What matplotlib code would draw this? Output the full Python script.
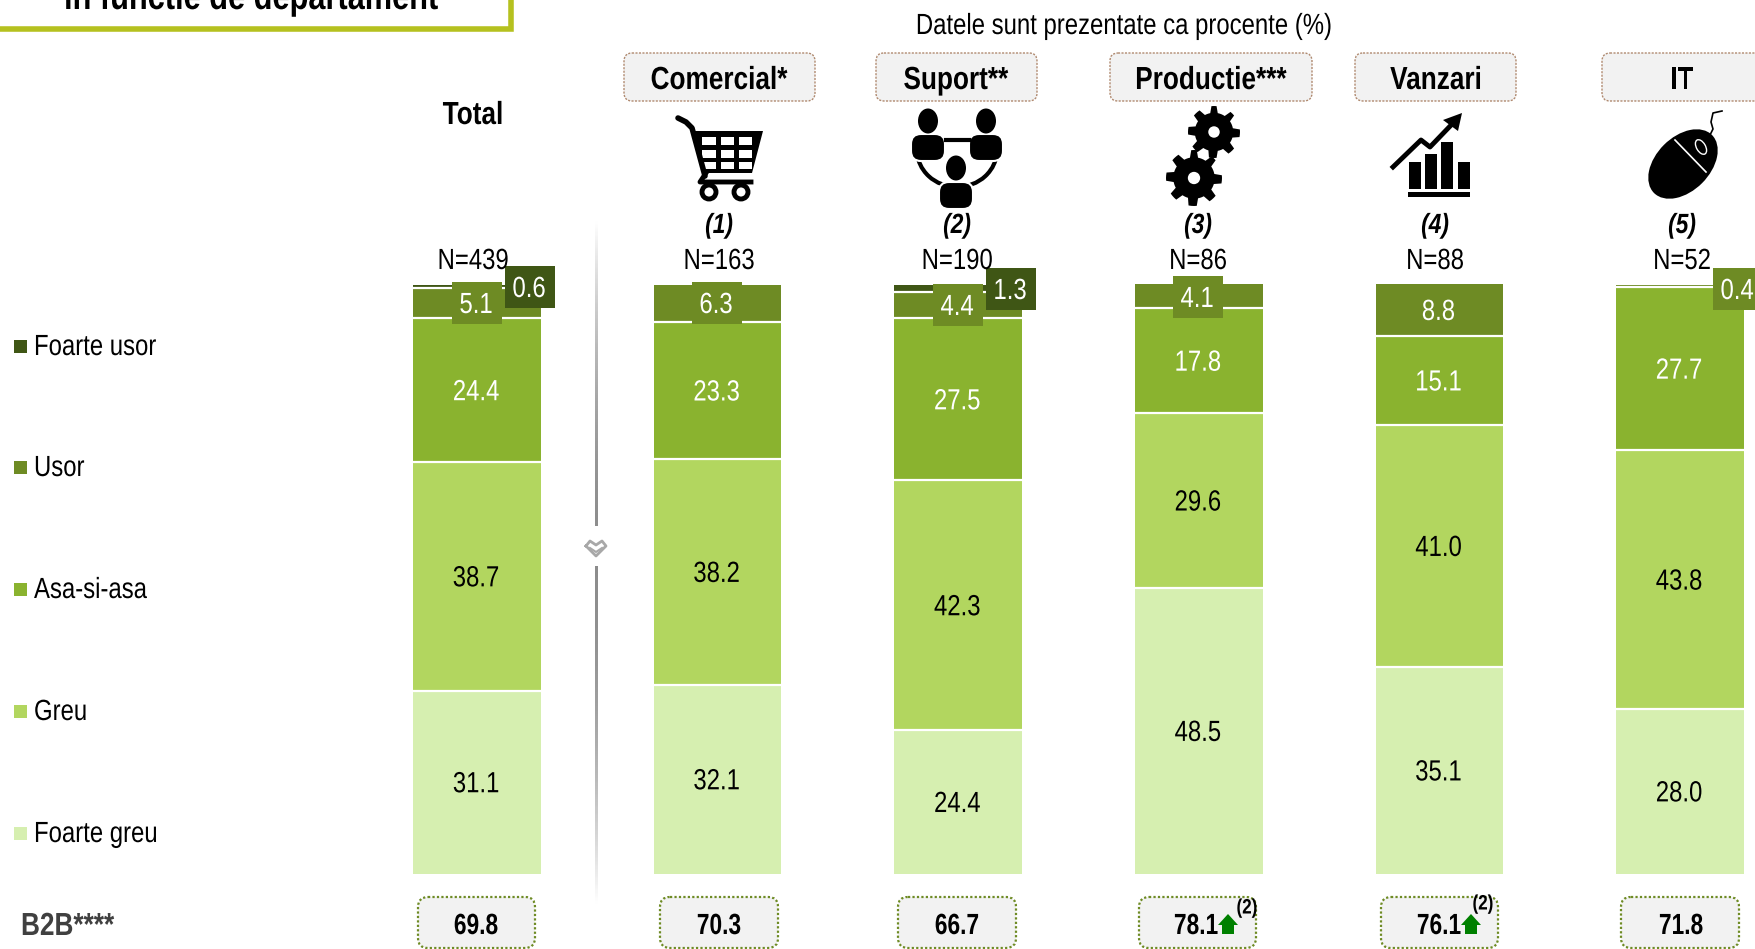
import matplotlib
matplotlib.use("Agg")
import matplotlib.pyplot as plt
from matplotlib.patches import Rectangle, FancyBboxPatch, Polygon, Circle, Ellipse, Arc
from matplotlib.patheffects import AbstractPathEffect
from matplotlib.transforms import Affine2D
import numpy as np

plt.rcParams['font.family'] = ['Liberation Sans', 'DejaVu Sans']

# data
departments = ["Total", "Comercial*", "Suport**", "Productie***", "Vanzari", "IT"]
sample_n = ["N=439", "N=163", "N=190", "N=86", "N=88", "N=52"]
col_numbers = ["(1)", "(2)", "(3)", "(4)", "(5)"]
levels = ["Foarte greu", "Greu", "Asa-si-asa", "Usor", "Foarte usor"]
foarte_greu = [31.1, 32.1, 24.4, 48.5, 35.1, 28.0]
greu = [38.7, 38.2, 42.3, 29.6, 41.0, 43.8]
asa_si_asa = [24.4, 23.3, 27.5, 17.8, 15.1, 27.7]
usor = [5.1, 6.3, 4.4, 4.1, 8.8, 0.4]
foarte_usor = [0.6, 0.0, 1.3, 0.0, 0.0, 0.0]
b2b = [69.8, 70.3, 66.7, 78.1, 76.1, 71.8]

series = [foarte_greu, greu, asa_si_asa, usor, foarte_usor]
colors = ["#D6EFB0", "#B2D65F", "#8AB32F", "#6E8B24", "#3F5615"]
text_colors = ["black", "black", "white", "white", "white"]

W, H = 1755, 949
fig = plt.figure(figsize=(W / 100, H / 100), dpi=100, facecolor="white")


# no narrow font is installed, so squeeze the glyphs around the text anchor
class Narrow(AbstractPathEffect):
    def __init__(self, artist, sx):
        super().__init__()
        self.artist = artist
        self.sx = sx

    def draw_path(self, renderer, gc, tpath, affine, rgbFace=None):
        x0 = self.artist.get_transform().transform(self.artist.get_position())[0]
        squeeze = Affine2D().translate(-x0, 0).scale(self.sx, 1).translate(x0, 0)
        renderer.draw_path(gc, tpath, affine + squeeze, rgbFace)


def label(axis, x, y, s, sx=0.82, **kw):
    kw.setdefault("ha", "center")
    kw.setdefault("va", "center")
    t = axis.text(x, y, s, **kw)
    t.set_path_effects([Narrow(t, sx)])
    return t


# bars, y axis 0-100 sits between pixel rows 874 and 284
pitch = 240.6
left = 477 - pitch / 2
ax = fig.add_axes([left / W, (H - 874) / H, 6 * pitch / W, 590 / H])
ax.set_xlim(-0.5, 5.5)
ax.set_ylim(0, 100)
ax.axis("off")
x = np.arange(len(departments))
bar_w = 0.53
nudge = ax.transData + Affine2D().translate(-1, -2)
bottom = np.zeros(len(departments))
boxed = {(0, 3), (0, 4), (1, 3), (2, 3), (2, 4), (3, 3), (5, 3)}
for s, vals in enumerate(series):
    vals = np.array(vals)
    ax.bar(x, vals, bar_w, bottom=bottom, color=colors[s], linewidth=0)
    for i, v in enumerate(vals):
        if v > 0 and (i, s) not in boxed:
            label(ax, i, bottom[i] + v / 2, f"{v:.1f}", color=text_colors[s], fontsize=21,
                  transform=nudge)
    # thin white line under each segment, not at the very bottom
    if s > 0:
        ok = vals > 0
        ax.hlines(bottom[ok], x[ok] - bar_w / 2, x[ok] + bar_w / 2, color="white",
                  linewidth=1.6, zorder=3, clip_on=False)
    bottom += vals

# everything else in pixel coordinates
ov = fig.add_axes([0, 0, 1, 1], facecolor="none")
ov.set_xlim(0, W)
ov.set_ylim(H, 0)
ov.axis("off")

# small value tags that sit over thin segments: column, series, centre
tag_pos = [(0, 3, 477, 303), (0, 4, 530, 287), (1, 3, 717, 303), (2, 3, 958, 305),
           (2, 4, 1011, 289), (3, 3, 1198, 297), (5, 3, 1738, 289)]
for i, s, cx, cy in tag_pos:
    ov.add_patch(Rectangle((cx - 25, cy - 21), 50, 42, color=colors[s], lw=0, zorder=3))
    label(ov, cx - 1, cy + 2, f"{series[s][i]:.1f}", color="white", fontsize=21, zorder=4)

# title box, cut by the top edge
ov.add_patch(Rectangle((-10, -10), 521, 39, facecolor="white", edgecolor="#B5C11F", lw=4))
label(ov, 251, -1, "in functie de departament", fontsize=27, fontweight="bold")
label(ov, 1124, 26, "Datele sunt prezentate ca procente (%)", fontsize=21)

# header boxes
label(ov, 473, 116, departments[0], fontsize=23, fontweight="bold")
head_boxes = [(624, 815), (876, 1037), (1110, 1312), (1355, 1516), (1602, 1762)]
head_x = [719, 956, 1211, 1436, 1682]
for (a, b), cx, name in zip(head_boxes, head_x, departments[1:]):
    ov.add_patch(FancyBboxPatch((a + 6, 59), b - a - 12, 36, boxstyle="round,pad=6,rounding_size=8",
                                facecolor="#F2F2F2", edgecolor="#B08A70", lw=1, ls=(0, (1.5, 1))))
    label(ov, cx, 81, name, fontsize=23, fontweight="bold")

num_x = [719, 957, 1198, 1435, 1682]
for cx, t in zip(num_x, col_numbers):
    label(ov, cx, 226, t, fontsize=20, fontweight="bold", style="italic")
n_x = [473] + num_x
for cx, t in zip(n_x, sample_n):
    label(ov, cx, 261, t, fontsize=21)

# legend
leg_y = [346, 467, 589, 711, 833]
for y, s in zip(leg_y, [4, 3, 2, 1, 0]):
    ov.add_patch(Rectangle((14, y - 6.5), 13, 13, color=colors[s], lw=0))
    label(ov, 34, y + 1, levels[s], ha="left", fontsize=21)

# B2B row
label(ov, 21, 927, "B2B****", ha="left", fontsize=23, fontweight="bold", color="#404040")
b2b_boxes = [(418, 535), (660, 778), (898, 1016), (1139, 1256), (1381, 1498), (1621, 1739)]
b2b_x = [476, 719, 957, 1196, 1439, 1681]
for (a, b), cx, v in zip(b2b_boxes, b2b_x, b2b):
    ov.add_patch(FancyBboxPatch((a + 8, 905), b - a - 16, 35, boxstyle="round,pad=8,rounding_size=10",
                                facecolor="#F2F2F2", edgecolor="#6E8B24", lw=1.6, ls=(0, (1, 1))))
    label(ov, cx, 926, f"{v:.1f}", sx=0.78, fontsize=21, fontweight="bold")


def up_arrow(xc):
    pts = [(xc, 914), (xc + 10, 925), (xc + 6, 925), (xc + 6, 934), (xc - 6, 934), (xc - 6, 925), (xc - 10, 925)]
    ov.add_patch(Polygon(pts, color="#008000", lw=0))


up_arrow(1228)
up_arrow(1471)
label(ov, 1247, 908, "(2)", fontsize=15, fontweight="bold")
label(ov, 1483, 904, "(2)", fontsize=15, fontweight="bold")

# divider with fading ends
grad = np.abs(np.linspace(-1, 1, 256)) ** 2
img = (0.55 + 0.45 * grad)[:, None]
ov.imshow(img, extent=(595, 598, 905, 220), cmap="gray", vmin=0, vmax=1, aspect="auto", zorder=1)
ov.set_xlim(0, W)
ov.set_ylim(H, 0)
ov.add_patch(Rectangle((585, 526), 24, 40, color="white", lw=0, zorder=2))
ov.plot([586, 590, 596, 602, 606, 601, 596, 591, 586], [546, 541, 545, 541, 546, 551, 556, 551, 546],
        color="#a8a8a8", lw=2, zorder=3)
ov.plot([590, 596, 602], [548, 552, 548], color="#a8a8a8", lw=1.5, zorder=3)

# icons
# cart
ov.plot([678, 686, 692, 705], [118, 122, 128, 176], color="k", lw=4, solid_capstyle="round")
ov.add_patch(Polygon([(693, 131), (763, 131), (752, 173), (703, 173)], color="k", lw=0))
for cy, h in [(137, 8), (150, 8), (162, 7)]:
    for cx, w in [(702, 14), (721, 13), (739, 13)]:
        ov.add_patch(Rectangle((cx, cy), w, h, color="white", lw=0))
ov.plot([706, 700, 751], [173, 182, 182], color="k", lw=3.5)
for cx in (709, 741):
    ov.add_patch(Circle((cx, 192), 7, facecolor="white", edgecolor="k", lw=3.5))

# people
ov.add_patch(Arc((957, 150), 80, 74, theta1=0, theta2=180, color="k", lw=3))
ov.plot([946, 969], [140, 140], color="k", lw=3)
for hx, hy, by in [(928, 121, 134), (986, 121, 134), (956, 168, 182)]:
    ov.add_patch(Ellipse((hx, hy), 20, 25, color="white", ec="white", lw=2))
    ov.add_patch(FancyBboxPatch((hx - 11, by + 6), 22, 15, boxstyle="round,pad=6,rounding_size=10",
                                facecolor="k", edgecolor="white", lw=1.5))
    ov.add_patch(Ellipse((hx, hy), 20, 25, color="k", lw=0))


# gears
def gear(cx, cy, r):
    ang = np.linspace(0, 2 * np.pi, 64, endpoint=False)
    rad = np.where(((ang / (2 * np.pi) * 8 + 0.25) % 1) < 0.5, r, r * 0.74)
    ov.add_patch(Polygon(np.c_[cx + rad * np.sin(ang), cy + rad * np.cos(ang)], color="k", lw=0))
    ov.add_patch(Circle((cx, cy), r * 0.22, color="white", lw=0))


gear(1214, 132, 26)
gear(1194, 178, 28)

# growth chart
for a, top in [(1409, 162), (1425, 154), (1441, 142), (1458, 162)]:
    ov.add_patch(Rectangle((a, top), 12, 189 - top, color="k", lw=0))
ov.add_patch(Rectangle((1408, 192), 62, 5, color="k", lw=0))
ov.plot([1393, 1421, 1430, 1455], [167, 140, 147, 121], color="k", lw=3.5)
ov.add_patch(Polygon([(1462, 113), (1458, 131), (1443, 120)], color="k", lw=0))

# mouse
ov.add_patch(Ellipse((1683, 164), 82, 54, angle=-45, color="k", lw=0))
ov.plot([1675, 1706], [140, 172], color="white", lw=1.2)
ov.add_patch(Ellipse((1701, 147), 9, 16, angle=-30, facecolor="k", edgecolor="white", lw=1))
ov.plot([1709, 1713, 1711, 1713, 1722], [137, 129, 122, 113, 111], color="k", lw=1.2)

fig.savefig("out.png", dpi=100)
